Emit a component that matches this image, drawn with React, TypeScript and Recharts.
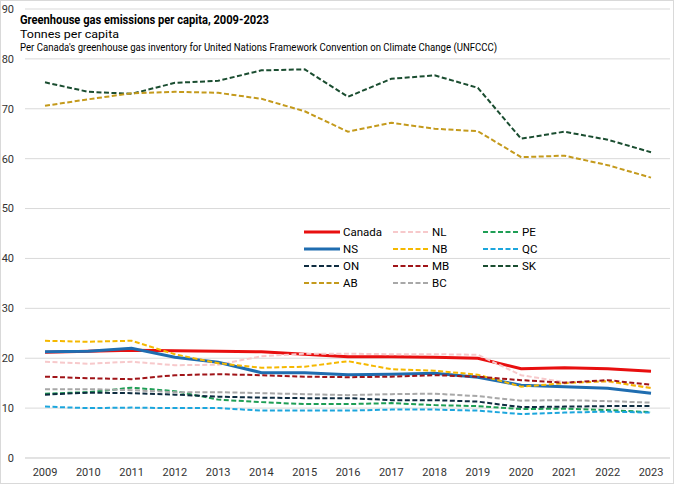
import React from 'react';
import { LineChart, Line, XAxis, YAxis, CartesianGrid } from 'recharts';

const years = ['2009','2010','2011','2012','2013','2014','2015','2016','2017','2018','2019','2020','2021','2022','2023'];
const canada = [21.2, 21.4, 21.6, 21.5, 21.4, 21.3, 20.8, 20.3, 20.3, 20.2, 20.0, 17.9, 18.1, 17.9, 17.4];
const nl = [19.3, 18.9, 19.3, 18.6, 18.7, 20.4, 20.9, 20.9, 20.8, 20.8, 20.7, 16.6, 15.2, 15.3, 14.1];
const pe = [12.9, 13.2, 14.1, 13.4, 11.7, 11.2, 10.8, 10.8, 11.0, 10.6, 10.4, 9.8, 9.9, 9.6, 9.2];
const ns = [21.3, 21.4, 22.0, 20.2, 19.2, 17.1, 17.1, 16.7, 16.8, 17.0, 16.2, 14.6, 14.3, 14.0, 13.0];
const nb = [23.5, 23.3, 23.5, 20.8, 19.0, 18.1, 18.3, 19.4, 17.8, 17.5, 16.7, 14.3, 15.0, 15.4, 14.0];
const qc = [10.3, 10.0, 10.1, 10.0, 10.0, 9.5, 9.5, 9.5, 9.7, 9.7, 9.5, 8.8, 9.1, 9.3, 9.1];
const on = [12.7, 13.1, 13.0, 12.7, 12.3, 12.1, 12.0, 12.0, 11.6, 11.6, 11.3, 10.2, 10.3, 10.4, 10.4];
const mb = [16.3, 16.0, 15.8, 16.6, 16.8, 16.6, 16.3, 16.2, 16.3, 16.6, 16.3, 15.6, 15.1, 15.6, 14.7];
const sk = [75.3, 73.4, 73.0, 75.2, 75.6, 77.7, 77.9, 72.4, 76.0, 76.7, 74.2, 64.0, 65.4, 63.8, 61.3];
const ab = [70.6, 71.9, 73.1, 73.4, 73.2, 72.0, 69.5, 65.4, 67.2, 66.0, 65.5, 60.3, 60.6, 58.7, 56.2];
const bc = [13.8, 13.8, 13.6, 13.2, 13.2, 13.0, 12.8, 12.6, 12.8, 12.9, 12.4, 11.5, 11.6, 11.4, 11.1];
const yTicks = [0, 10, 20, 30, 40, 50, 60, 70, 80, 90];

const title = 'Greenhouse gas emissions per capita, 2009-2023';
const unitLabel = 'Tonnes per capita';
const subtitle = "Per Canada's greenhouse gas inventory for United Nations Framework Convention on Climate Change (UNFCCC)";

type S = { key: string; values: number[]; color: string; width: number; dashed: boolean };
const series: S[] = [
  { key: 'Canada', values: canada, color: '#E80F0F', width: 3, dashed: false },
  { key: 'NL', values: nl, color: '#F7C9CB', width: 2, dashed: true },
  { key: 'PE', values: pe, color: '#1E9E55', width: 2, dashed: true },
  { key: 'NS', values: ns, color: '#1F6DB0', width: 3, dashed: false },
  { key: 'NB', values: nb, color: '#F5B800', width: 2, dashed: true },
  { key: 'QC', values: qc, color: '#1CA6DD', width: 2, dashed: true },
  { key: 'ON', values: on, color: '#0E2C40', width: 2, dashed: true },
  { key: 'MB', values: mb, color: '#A01418', width: 2, dashed: true },
  { key: 'SK', values: sk, color: '#1A4D30', width: 2, dashed: true },
  { key: 'AB', values: ab, color: '#C49A1C', width: 2, dashed: true },
  { key: 'BC', values: bc, color: '#A8A8A8', width: 2, dashed: true },
];

const data = years.map((y, i) => {
  const row: Record<string, string | number> = { year: y };
  series.forEach((s) => { row[s.key] = s.values[i]; });
  return row;
});

const FONT = 'Roboto, "Liberation Sans", sans-serif';
const DASH = '5 2.5';

const legendColX = [304, 393, 483];
const legendRowY = [232, 249, 266, 283];

export default function App() {
  return (
    <div style={{ position: 'absolute', left: 0, top: 0, width: 674, height: 484, background: '#fff', fontFamily: FONT }}>
      <LineChart width={674} height={484} data={data} margin={{ top: 9, right: 4, bottom: 0, left: 0 }}>
        <CartesianGrid vertical={false} stroke="#D9D9D9" />
        <XAxis
          dataKey="year"
          padding={{ left: 20, right: 19 }}
          tickLine={false}
          axisLine={{ stroke: '#D9D9D9' }}
          tickMargin={4}
          height={26}
          interval={0}
          tick={{ fontSize: 11, fill: '#333', fontFamily: FONT }}
        />
        <YAxis
          domain={[0, 90]}
          ticks={yTicks}
          width={25}
          tickLine={false}
          axisLine={false}
          tickMargin={5}
          interval={0}
          tick={{ fontSize: 11, fill: '#333', fontFamily: FONT }}
        />
        {series.map((s) => (
          <Line
            key={s.key}
            dataKey={s.key}
            stroke={s.color}
            strokeWidth={s.width}
            strokeDasharray={s.dashed ? DASH : undefined}
            dot={false}
            activeDot={false}
            isAnimationActive={false}
          />
        ))}
      </LineChart>
      <svg width={674} height={484} style={{ position: 'absolute', left: 0, top: 0, pointerEvents: 'none' }}>
        <rect x={0.5} y={0.5} width={673} height={483} fill="none" stroke="#D9D9D9" />
        <rect x={19} y={12} width={480} height={42} fill="#fff" />
        <text x={20} y={24} fontSize={13.5} fontWeight="bold" fill="#000" fontFamily={FONT} textLength={249} lengthAdjust="spacingAndGlyphs">{title}</text>
        <text x={20} y={38} fontSize={11} fill="#000" fontFamily={FONT} textLength={99} lengthAdjust="spacingAndGlyphs">{unitLabel}</text>
        <text x={20} y={51} fontSize={11} fill="#000" fontFamily={FONT} textLength={477} lengthAdjust="spacingAndGlyphs">{subtitle}</text>
        {series.map((s, i) => {
          const cx = legendColX[i % 3];
          const cy = legendRowY[Math.floor(i / 3)];
          return (
            <g key={s.key}>
              <line x1={cx} x2={cx + 36} y1={cy} y2={cy} stroke={s.color} strokeWidth={s.width} strokeDasharray={s.dashed ? DASH : undefined} />
              <text x={cx + 39} y={cy + 4} fontSize={11.5} fill="#000" fontFamily={FONT}>{s.key}</text>
            </g>
          );
        })}
      </svg>
    </div>
  );
}
